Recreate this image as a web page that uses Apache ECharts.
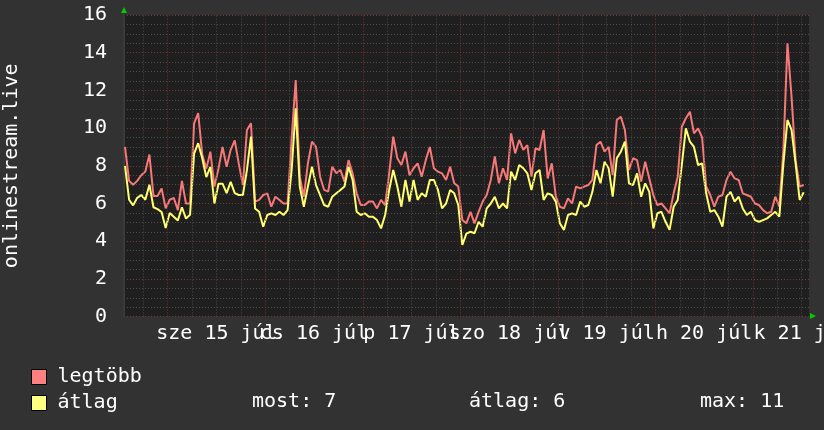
<!DOCTYPE html>
<html>
<head>
<meta charset="utf-8">
<script src="https://cdn.jsdelivr.net/npm/echarts@6/dist/echarts.min.js"></script>
<style>
  html, body { margin: 0; padding: 0; background: #323232; }
  #chart { width: 824px; height: 430px; }
</style>
</head>
<body>
<div id="chart"></div>
<script>
// hours relative to midnight of 15 July, first sample at -10.5 h, one sample per hour
const firstHour = -10.5;
const dayLabels = ['sze 15 júl', 'cs 16 júl', 'p 17 júl', 'szo 18 júl', 'v 19 júl', 'h 20 júl', 'k 21 júl'];
const labelHours = [12, 36, 60, 84, 108, 132, 156];
const dayStarts = [0, 24, 48, 72, 96, 120, 144];
const quarterHours = [-6, 6, 12, 18, 30, 36, 42, 54, 60, 66, 78, 84, 90, 102, 108, 114, 126, 132, 138, 150, 156];

const legtobb = [
  9.0, 7.2, 7.0, 7.2, 7.5, 7.7, 8.6, 6.4, 6.4, 6.8,
  5.75, 6.2, 6.3, 5.65, 7.2, 6.0, 6.0, 10.25, 10.8, 8.6,
  7.85, 8.75, 6.9, 7.85, 9.0, 7.95, 8.85, 9.35, 8.1, 6.98,
  9.9, 10.25, 6.1, 6.19, 6.45, 6.54, 5.83, 6.36, 6.19, 6.0,
  6.0, 9.46, 12.55, 7.42, 6.36, 8.13, 9.28, 9.0, 7.42, 6.72,
  6.63, 7.95, 7.6, 7.78, 7.16, 8.3, 7.6, 6.54, 5.92, 5.92,
  6.1, 6.1, 5.74, 6.19, 5.92, 7.6, 9.55, 8.4, 8.04, 8.75,
  7.5, 7.87, 8.13, 7.42, 8.3, 9.0, 7.87, 7.69, 7.6, 7.25,
  7.95, 7.07, 6.9, 5.12, 4.95, 5.56, 4.95, 5.56, 6.1, 6.45,
  7.25, 8.5, 7.07, 7.87, 7.25, 9.72, 8.66, 9.37, 8.84, 9.1,
  7.42, 8.93, 8.84, 9.9, 7.33, 8.13, 6.36, 5.83, 5.74, 6.27,
  6.0, 6.9, 6.8, 6.9, 6.98, 7.25, 9.1, 9.28, 8.75, 9.0,
  7.5, 10.43, 10.6, 9.9, 7.78, 8.4, 8.3, 7.16, 8.22, 7.33,
  6.45, 5.92, 6.0, 5.74, 5.48, 6.54, 7.42, 10.07, 10.52, 10.87,
  9.72, 9.99, 9.5, 6.9, 6.45, 5.83, 6.36, 6.45, 7.25, 7.69,
  7.33, 7.25, 6.54, 6.45, 6.36, 6.0, 5.92, 5.65, 5.48, 5.56,
  6.36, 5.83, 8.84, 14.5, 11.67, 8.3, 6.9, 6.98
];

const atlag = [
  8.0, 6.2, 5.9, 6.3, 6.45, 6.2, 7.0, 5.8, 5.7, 5.55,
  4.7, 5.5, 5.3, 5.1, 5.8, 5.2, 5.4, 8.65, 9.2, 8.4,
  7.4, 7.95, 6.0, 7.05, 7.05, 6.55, 7.15, 6.55, 6.45, 6.45,
  7.78, 9.55, 5.74, 5.56, 4.77, 5.39, 5.48, 5.39, 5.56, 5.39,
  5.65, 7.78, 11.05, 6.9, 5.83, 6.9, 7.95, 6.98, 6.45, 5.92,
  5.83, 6.36, 6.54, 6.72, 6.9, 7.95, 7.25, 5.56, 5.39, 5.48,
  5.3, 5.3, 5.12, 4.68, 5.39, 6.72, 7.78, 6.9, 5.83, 7.25,
  6.1, 7.25, 6.19, 6.54, 6.36, 7.25, 7.25, 6.72, 5.74, 6.0,
  6.72, 6.54, 5.92, 3.8, 4.4, 4.5, 4.42, 5.03, 4.77, 5.74,
  6.0, 6.36, 5.74, 6.0, 5.74, 7.69, 7.25, 8.04, 7.87, 7.6,
  6.72, 7.6, 7.78, 6.19, 6.54, 6.45, 6.1, 4.95, 4.6, 5.39,
  5.48, 5.39, 6.1, 5.83, 5.92, 6.62, 7.78, 7.07, 8.22, 7.87,
  6.36, 8.4, 8.75, 9.28, 7.07, 6.98, 7.6, 6.36, 7.07, 6.62,
  4.68, 5.48, 5.56, 5.03, 4.6, 5.83, 6.19, 8.04, 9.99, 9.28,
  9.0, 8.04, 8.13, 6.54, 5.56, 5.65, 5.3, 4.77, 6.36, 6.62,
  6.1, 6.36, 5.74, 5.39, 5.56, 5.12, 5.03, 5.12, 5.21, 5.39,
  5.56, 5.3, 8.13, 10.43, 9.9, 8.13, 6.19, 6.6
];

const stats = ['most: 7', 'átlag: 6', 'max: 11'];

const mono = 'DejaVu Sans Mono';
const withHours = arr => arr.map((v, i) => [firstHour + i, v]);

const gridLines = []
  .concat(quarterHours.map(h => ({ xAxis: h, lineStyle: { color: '#4d4d4d', type: [1, 2], width: 1 } })))
  .concat(dayStarts.map(h => ({ xAxis: h, lineStyle: { color: '#7a3535', type: [1, 2], width: 1 } })));

// labels overlap in the original, so split them over two identical axes
const dayAxis = values => ({
  type: 'value', position: 'bottom', offset: 0, min: -10.75, max: 157.8,
  splitLine: { show: false },
  axisLine: { show: false },
  axisTick: { show: false },
  axisLabel: {
    customValues: values, hideOverlap: false,
    showMinLabel: true, showMaxLabel: true,
    color: '#ffffff', fontFamily: mono, fontSize: 20, margin: 7,
    formatter: v => dayLabels[labelHours.indexOf(v)] || ''
  }
});

const chart = echarts.init(document.getElementById('chart'));
chart.setOption({
  animation: false,
  backgroundColor: '#323232',
  grid: {
    left: 124, right: 15, top: 15, bottom: 113.4,
    outerBoundsMode: 'none', containLabel: false,
    show: true, backgroundColor: '#1f1f1f', borderWidth: 0
  },
  legend: {
    orient: 'vertical', left: 26, top: 362,
    itemWidth: 15, itemHeight: 15, itemGap: 6,
    icon: 'rect', selectedMode: false,
    itemStyle: { borderColor: '#000', borderWidth: 1 },
    textStyle: { color: '#ffffff', fontFamily: mono, fontSize: 20, padding: [0, 0, 0, 6] },
    data: ['legtöbb', 'átlag']
  },
  xAxis: [
    dayAxis(labelHours.filter((h, i) => i % 2 === 0)),
    dayAxis(labelHours.filter((h, i) => i % 2 === 1))
  ],
  yAxis: {
    type: 'value', min: 0, max: 16, interval: 2,
    name: 'onlinestream.live', nameLocation: 'middle', nameRotate: 90, nameGap: 102,
    nameTextStyle: { color: '#ffffff', fontFamily: mono, fontSize: 20 },
    axisLine: { show: true, onZero: false, lineStyle: { color: '#3a3a3a', width: 2 } },
    axisTick: { show: false },
    axisLabel: { color: '#ffffff', fontFamily: mono, fontSize: 20, margin: 17 },
    splitLine: { show: true, lineStyle: { color: '#7a3535', type: [1, 2], width: 1 } },
    minorTick: { show: false, splitNumber: 4 },
    minorSplitLine: { show: true, lineStyle: { color: '#4d4d4d', type: [1, 2], width: 1 } }
  },
  graphic: [
    { type: 'polygon', shape: { points: [[121, 13], [127, 13], [124, 7]] }, style: { fill: '#00cc00' } },
    { type: 'polygon', shape: { points: [[810, 313], [810, 319], [816, 316]] }, style: { fill: '#00cc00' } },
    { type: 'text', left: 252, top: 392, style: { text: stats[0], fill: '#ffffff', font: '20px "DejaVu Sans Mono"' } },
    { type: 'text', left: 469, top: 392, style: { text: stats[1], fill: '#ffffff', font: '20px "DejaVu Sans Mono"' } },
    { type: 'text', left: 700, top: 392, style: { text: stats[2], fill: '#ffffff', font: '20px "DejaVu Sans Mono"' } }
  ],
  series: [
    {
      name: 'grid', type: 'line', data: [], z: 1, silent: true,
      markLine: { silent: true, symbol: 'none', label: { show: false }, data: gridLines }
    },
    {
      name: 'legtöbb', type: 'line', showSymbol: false, z: 3,
      data: withHours(legtobb),
      itemStyle: { color: '#ff8080' },
      lineStyle: { color: '#f67878', width: 2 }
    },
    {
      name: 'átlag', type: 'line', showSymbol: false, z: 4,
      data: withHours(atlag),
      itemStyle: { color: '#ffff80' },
      lineStyle: { color: '#ffff70', width: 2 }
    }
  ]
});
</script>
</body>
</html>
